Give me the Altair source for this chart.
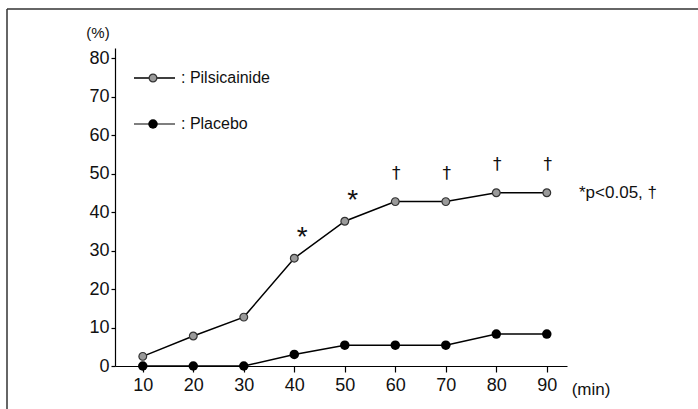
import altair as alt
import pandas as pd

# Time after administration (min) and response rate (%) per group
minutes = [10, 20, 30, 40, 50, 60, 70, 80, 90]
pilsicainide = [2.5, 7.8, 12.7, 28, 37.6, 42.7, 42.7, 45, 45]
placebo = [0, 0, 0, 3, 5.4, 5.4, 5.4, 8.3, 8.3]
significance = ["", "", "", "*", "*", "†", "†", "†", "†"]

x_ticks = [10, 20, 30, 40, 50, 60, 70, 80, 90]
y_ticks = [0, 10, 20, 30, 40, 50, 60, 70, 80]

FONT = "Liberation Sans"

df = pd.DataFrame({
    "min": minutes * 2,
    "rate": pilsicainide + placebo,
    "group": ["Pilsicainide"] * len(minutes) + ["Placebo"] * len(minutes),
})
sig_df = pd.DataFrame({"min": minutes, "rate": pilsicainide, "mark": significance})
sig_df = sig_df[sig_df["mark"] != ""]

x_scale = alt.Scale(domain=[4.5, 94], nice=False, zero=False)
y_scale = alt.Scale(domain=[0, 82.6], nice=False)

x_axis = alt.Axis(
    values=x_ticks, title=None, grid=False, domainColor="black", tickColor="black",
    tickSize=6, labelFont=FONT, labelFontSize=18, labelColor="#111", labelPadding=4,
    labelOverlap=False, domainWidth=1.2, tickWidth=1.2)
y_axis = alt.Axis(
    values=y_ticks, title=None, grid=False, domainColor="black", tickColor="black",
    tickSize=4, labelFont=FONT, labelFontSize=18, labelColor="#111", labelPadding=2,
    labelOverlap=False, domainWidth=1.2, tickWidth=1.2)

x_enc = alt.X("min:Q", scale=x_scale, axis=x_axis)
y_enc = alt.Y("rate:Q", scale=y_scale, axis=y_axis)

lines = alt.Chart(df).mark_line(color="black", strokeWidth=1.5).encode(
    x=x_enc, y=y_enc, detail="group:N")

pts_p = alt.Chart(df[df["group"] == "Pilsicainide"]).mark_point(
    filled=True, fill="#9a9a9a", stroke="#333", strokeWidth=1.2, size=60, opacity=1
).encode(x=x_enc, y=y_enc)

pts_c = alt.Chart(df[df["group"] == "Placebo"]).mark_point(
    filled=True, color="black", size=90, opacity=1
).encode(x=x_enc, y=y_enc)

stars = alt.Chart(sig_df[sig_df["mark"] == "*"]).mark_text(
    font=FONT, fontSize=28, dy=-20, dx=8, color="#111", baseline="middle"
).encode(x=x_enc, y=y_enc, text="mark:N")

daggers = alt.Chart(sig_df[sig_df["mark"] == "†"]).mark_text(
    font="DejaVu Sans", fontSize=17, dy=-28, dx=1, color="#111", baseline="middle"
).encode(x=x_enc, y=y_enc, text="mark:N")

# Legend drawn inside the plot area (pixel positions)
leg_lines = alt.Chart(pd.DataFrame({"a": [0, 1]})).mark_rule(color="black", strokeWidth=1.2).encode(
    x=alt.value(19), x2=alt.value(60), y=alt.value(30))
leg_lines2 = alt.Chart(pd.DataFrame({"a": [0]})).mark_rule(color="black", strokeWidth=1.2).encode(
    x=alt.value(19), x2=alt.value(60), y=alt.value(76))
leg_p = alt.Chart(pd.DataFrame({"a": [0]})).mark_point(
    filled=True, fill="#9a9a9a", stroke="#333", strokeWidth=1.2, size=60, opacity=1
).encode(x=alt.value(38), y=alt.value(30))
leg_c = alt.Chart(pd.DataFrame({"a": [0]})).mark_point(
    filled=True, color="black", size=90, opacity=1
).encode(x=alt.value(38), y=alt.value(76))
leg_t1 = alt.Chart(pd.DataFrame({"t": [": Pilsicainide"]})).mark_text(
    font=FONT, fontSize=16, align="left", baseline="middle", color="#111"
).encode(x=alt.value(66), y=alt.value(30), text="t:N")
leg_t2 = alt.Chart(pd.DataFrame({"t": [": Placebo"]})).mark_text(
    font=FONT, fontSize=16, align="left", baseline="middle", color="#111"
).encode(x=alt.value(66), y=alt.value(76), text="t:N")

# Axis unit labels
pct = alt.Chart(pd.DataFrame({"t": ["(%)"]})).mark_text(
    font=FONT, fontSize=15, align="center", baseline="middle", color="#111"
).encode(x=alt.value(-17), y=alt.value(-15), text="t:N")
mins = alt.Chart(pd.DataFrame({"t": ["(min)"]})).mark_text(
    font=FONT, fontSize=17, align="center", baseline="middle", color="#111"
).encode(x=alt.value(476), y=alt.value(342), text="t:N")

# Significance footnote
footnote = alt.Chart(pd.DataFrame({"t": ["*p<0.05, †"]})).mark_text(
    font=FONT, fontSize=17, align="left", baseline="middle", color="#111"
).encode(x=alt.value(464), y=alt.value(145), text="t:N")

# Outer frame (left and top edges)
frame_left = alt.Chart(pd.DataFrame({"a": [0]})).mark_rule(color="#333", strokeWidth=1.5).encode(
    x=alt.value(-108), y=alt.value(-39), y2=alt.value(361))
frame_top = alt.Chart(pd.DataFrame({"a": [0]})).mark_rule(color="#333", strokeWidth=1.5).encode(
    x=alt.value(-108), x2=alt.value(583), y=alt.value(-39))

chart = alt.layer(
    lines, pts_p, pts_c, stars, daggers, frame_left, frame_top,
    leg_lines, leg_lines2, leg_p, leg_c, leg_t1, leg_t2, pct, mins, footnote
).properties(
    width=452, height=318,
    autosize=alt.AutoSizeParams(type="none"),
    padding={"left": 115, "top": 48, "right": 131, "bottom": 43},
    background="white",
).configure_view(stroke=None)

chart.save("out.html", embed_options={"renderer": "svg", "actions": False})
